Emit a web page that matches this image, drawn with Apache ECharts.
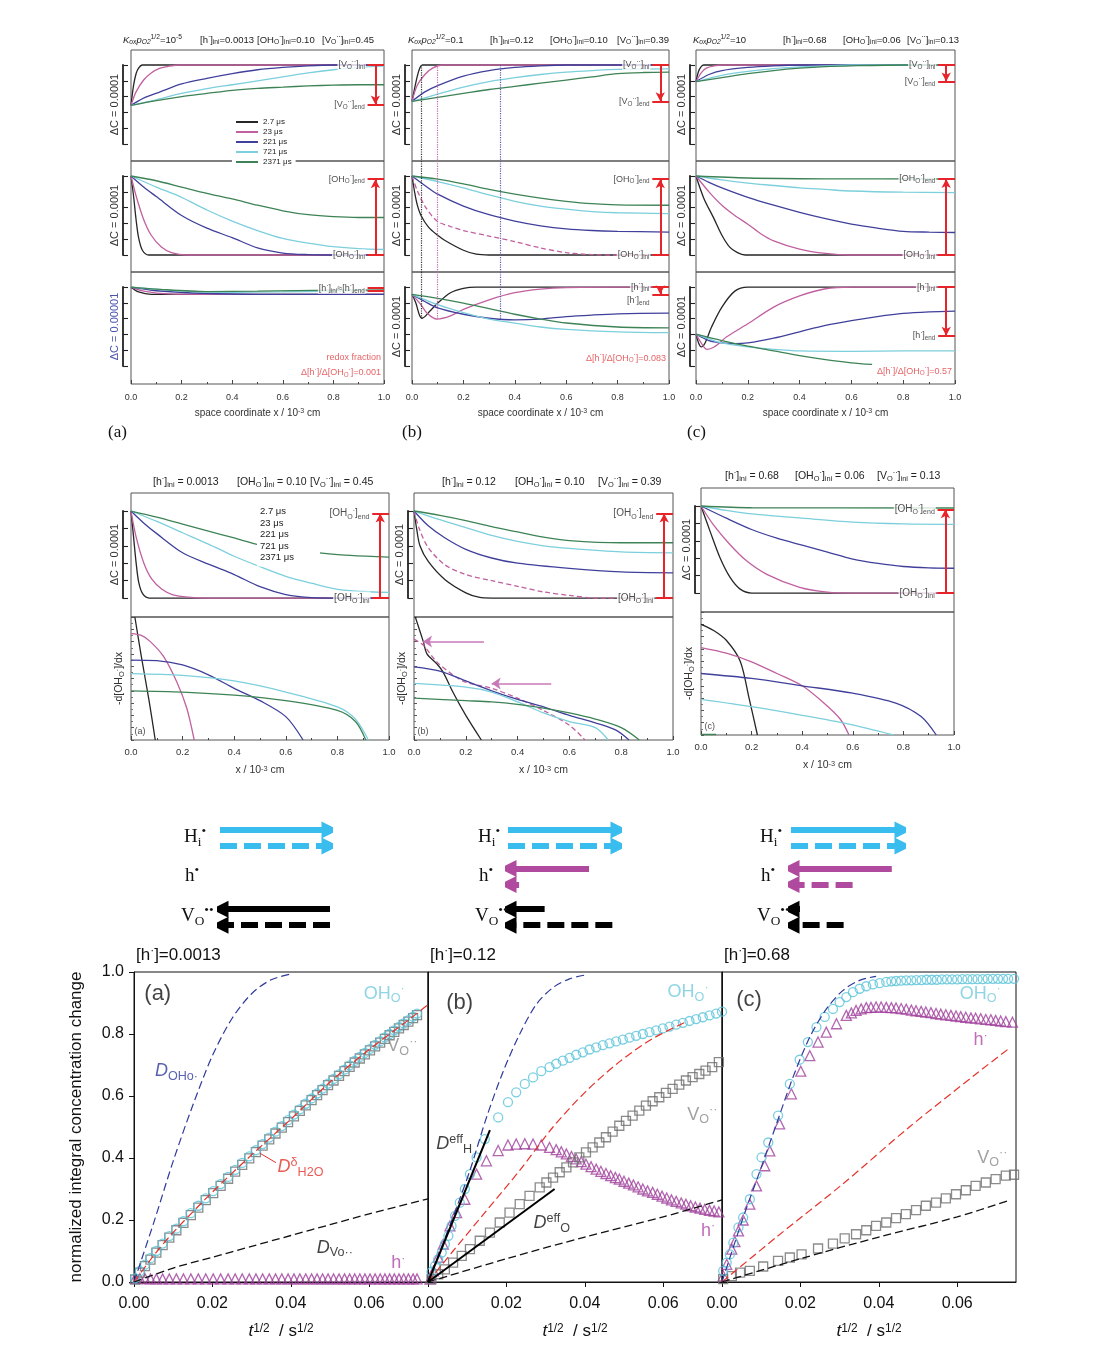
<!DOCTYPE html>
<html><head><meta charset="utf-8"><title>chart</title>
<script src="https://cdn.jsdelivr.net/npm/echarts/dist/echarts.min.js"></script>
<style>html,body{margin:0;padding:0;background:#fff;}#chart{width:1117px;height:1354px;}</style>
</head><body><div id="chart"></div>
<script>
// ================= DATA =================
const times = ['2.7 μs','23 μs','221 μs','721 μs','2371 μs'];

// top section: concentration profiles (x in 1e-3 cm, y in units of the ΔC scale bar)
const topA_VO = [
 [[0,0.49],[0.01,0.74],[0.02,0.89],[0.03,0.96],[0.045,1],[1,1]],
 [[0,0.49],[0.02,0.66],[0.05,0.81],[0.08,0.9],[0.115,0.96],[0.15,0.985],[0.19,1],[1,1]],
 [[0,0.49],[0.05,0.58],[0.115,0.66],[0.2,0.76],[0.3,0.83],[0.4,0.89],[0.5,0.94],[0.6,0.97],[0.7,0.99],[0.8,1],[1,1]],
 [[0,0.49],[0.1,0.56],[0.2,0.64],[0.3,0.7],[0.4,0.75],[0.5,0.8],[0.6,0.85],[0.7,0.9],[0.8,0.94],[0.9,0.97],[1,0.985]],
 [[0,0.49],[0.1,0.55],[0.2,0.6],[0.3,0.64],[0.4,0.68],[0.5,0.705],[0.6,0.72],[0.7,0.735],[0.8,0.745],[0.9,0.75],[1,0.75]]
];
const topA_OH = [
 [[0,1],[0.01,0.75],[0.02,0.45],[0.03,0.22],[0.045,0.06],[0.07,0],[1,0]],
 [[0,1],[0.02,0.75],[0.05,0.45],[0.08,0.25],[0.12,0.1],[0.16,0.03],[0.22,0],[1,0]],
 [[0,1],[0.05,0.86],[0.1,0.74],[0.2,0.5],[0.3,0.34],[0.4,0.22],[0.5,0.09],[0.6,0.025],[0.7,0.005],[0.8,0],[1,0]],
 [[0,1],[0.1,0.86],[0.2,0.73],[0.3,0.57],[0.4,0.43],[0.5,0.31],[0.6,0.21],[0.7,0.15],[0.8,0.105],[0.9,0.08],[1,0.07]],
 [[0,1],[0.1,0.94],[0.2,0.86],[0.3,0.78],[0.4,0.71],[0.5,0.63],[0.6,0.56],[0.7,0.51],[0.8,0.485],[0.9,0.475],[1,0.475]]
];
const topA_h = [
 [[0,1],[0.03,0.94],[0.08,0.91],[0.2,0.91],[1,0.91]],
 [[0,1],[0.05,0.95],[0.15,0.915],[0.3,0.91],[1,0.91]],
 [[0,1],[0.1,0.955],[0.3,0.92],[0.5,0.91],[1,0.91]],
 [[0,1],[0.2,0.95],[0.4,0.935],[0.6,0.94],[0.8,0.95],[1,0.955]],
 [[0,1],[0.1,0.975],[0.3,0.945],[0.5,0.95],[0.8,0.962],[1,0.965]]
];
const topB_VO = [
 [[0,0.54],[0.01,0.7],[0.02,0.85],[0.03,0.96],[0.04,1],[1,1]],
 [[0,0.54],[0.02,0.74],[0.05,0.88],[0.08,0.96],[0.12,1],[1,1]],
 [[0,0.54],[0.05,0.66],[0.1,0.74],[0.2,0.86],[0.3,0.93],[0.4,0.97],[0.5,0.99],[0.6,1],[1,1]],
 [[0,0.54],[0.1,0.63],[0.2,0.72],[0.3,0.79],[0.4,0.84],[0.5,0.88],[0.6,0.91],[0.7,0.93],[0.8,0.945],[1,0.95]],
 [[0,0.54],[0.1,0.59],[0.2,0.64],[0.3,0.69],[0.4,0.73],[0.5,0.77],[0.6,0.81],[0.7,0.85],[0.8,0.89],[0.9,0.905],[1,0.91]]
];
const topB_OH = [
 [[0,1],[0.01,0.8],[0.02,0.64],[0.035,0.5],[0.065,0.35],[0.1,0.25],[0.13,0.18],[0.2,0.06],[0.25,0.01],[0.3,0],[1,0]],
 [[0,1],[0.02,0.82],[0.05,0.62],[0.097,0.43],[0.15,0.36],[0.2,0.31],[0.3,0.24],[0.4,0.17],[0.5,0.09],[0.6,0.03],[0.7,0.005],[0.8,0],[1,0]],
 [[0,1],[0.05,0.88],[0.1,0.77],[0.2,0.62],[0.3,0.51],[0.4,0.43],[0.5,0.37],[0.6,0.33],[0.7,0.31],[0.8,0.3],[1,0.29]],
 [[0,1],[0.1,0.93],[0.2,0.85],[0.3,0.76],[0.4,0.68],[0.5,0.62],[0.6,0.58],[0.7,0.55],[0.8,0.535],[1,0.525]],
 [[0,1],[0.1,0.96],[0.2,0.9],[0.3,0.83],[0.4,0.77],[0.5,0.72],[0.6,0.68],[0.7,0.65],[0.8,0.635],[1,0.63]]
];
const topB_h = [
 [[0,0.91],[0.015,0.8],[0.03,0.64],[0.039,0.61],[0.05,0.63],[0.07,0.7],[0.1,0.8],[0.15,0.93],[0.2,0.985],[0.25,1],[1,1]],
 [[0,0.91],[0.03,0.8],[0.06,0.67],[0.097,0.6],[0.15,0.64],[0.2,0.72],[0.3,0.84],[0.4,0.93],[0.5,0.975],[0.6,0.995],[0.8,1],[1,1]],
 [[0,0.91],[0.05,0.82],[0.1,0.74],[0.2,0.66],[0.3,0.61],[0.4,0.59],[0.5,0.6],[0.6,0.63],[0.7,0.65],[0.8,0.665],[1,0.675]],
 [[0,0.91],[0.1,0.78],[0.2,0.68],[0.3,0.6],[0.4,0.55],[0.5,0.5],[0.6,0.47],[0.8,0.44],[1,0.43]],
 [[0,0.91],[0.1,0.86],[0.2,0.8],[0.3,0.73],[0.4,0.66],[0.5,0.6],[0.6,0.55],[0.8,0.5],[1,0.49]]
];
const topC_VO = [
 [[0,0.79],[0.01,0.92],[0.02,0.98],[0.03,1],[1,1]],
 [[0,0.79],[0.02,0.9],[0.04,0.96],[0.07,0.99],[0.1,1],[1,1]],
 [[0,0.79],[0.05,0.88],[0.1,0.93],[0.2,0.97],[0.3,0.99],[0.4,1],[1,1]],
 [[0,0.79],[0.1,0.87],[0.2,0.92],[0.3,0.955],[0.4,0.975],[0.5,0.99],[0.6,1],[1,1]],
 [[0,0.79],[0.1,0.84],[0.2,0.89],[0.3,0.93],[0.4,0.96],[0.5,0.98],[0.6,0.99],[0.8,1],[1,1]]
];
const topC_OH = [
 [[0,1],[0.03,0.72],[0.068,0.47],[0.1,0.25],[0.13,0.1],[0.16,0.03],[0.19,0],[1,0]],
 [[0,1],[0.05,0.8],[0.1,0.63],[0.15,0.5],[0.2,0.39],[0.25,0.27],[0.3,0.18],[0.4,0.075],[0.5,0.02],[0.6,0],[1,0]],
 [[0,1],[0.05,0.92],[0.1,0.85],[0.2,0.73],[0.3,0.63],[0.4,0.54],[0.5,0.46],[0.6,0.39],[0.7,0.34],[0.8,0.3],[0.9,0.29],[1,0.285]],
 [[0,1],[0.1,0.95],[0.2,0.91],[0.3,0.88],[0.4,0.85],[0.5,0.83],[0.6,0.81],[0.8,0.795],[1,0.79]],
 [[0,1],[0.2,0.975],[0.5,0.965],[1,0.962]]
];
const topC_h = [
 [[0,0.41],[0.01,0.3],[0.02,0.25],[0.035,0.3],[0.06,0.5],[0.1,0.75],[0.15,0.95],[0.2,1],[1,1]],
 [[0,0.41],[0.02,0.3],[0.042,0.22],[0.07,0.25],[0.12,0.38],[0.2,0.54],[0.3,0.75],[0.4,0.89],[0.5,0.98],[0.6,1],[1,1]],
 [[0,0.41],[0.05,0.33],[0.1,0.3],[0.15,0.29],[0.2,0.3],[0.3,0.36],[0.4,0.44],[0.5,0.52],[0.6,0.58],[0.7,0.63],[0.8,0.67],[0.9,0.69],[1,0.7]],
 [[0,0.41],[0.05,0.35],[0.1,0.3],[0.2,0.25],[0.3,0.22],[0.4,0.2],[0.6,0.195],[0.8,0.2],[1,0.2]],
 [[0,0.41],[0.1,0.33],[0.2,0.26],[0.3,0.2],[0.4,0.14],[0.5,0.09],[0.6,0.05],[0.68,0.03]]
];

// middle section: OH profiles and gradients
const midA_OH = [
 [[0,1],[0.01,0.7],[0.02,0.4],[0.03,0.18],[0.045,0.05],[0.07,0],[1,0]],
 [[0,1],[0.02,0.7],[0.05,0.4],[0.08,0.22],[0.12,0.1],[0.16,0.04],[0.22,0.01],[0.3,0],[1,0]],
 [[0,1],[0.05,0.86],[0.1,0.74],[0.2,0.52],[0.3,0.39],[0.4,0.27],[0.5,0.13],[0.6,0.04],[0.7,0.005],[0.8,0],[1,0]],
 [[0,1],[0.1,0.88],[0.2,0.75],[0.3,0.62],[0.4,0.48],[0.5,0.36],[0.6,0.25],[0.7,0.17],[0.8,0.1],[0.9,0.075],[1,0.065]],
 [[0,1],[0.1,0.93],[0.2,0.85],[0.3,0.77],[0.4,0.69],[0.5,0.61],[0.6,0.56],[0.73,0.52],[0.85,0.49],[1,0.47]]
];
const midA_dx = [
 [[0.015,1],[0.04,0.68],[0.07,0.32],[0.094,0]],
 [[0,0.865],[0.04,0.85],[0.075,0.8],[0.126,0.68],[0.178,0.47],[0.216,0.26],[0.245,0]],
 [[0,0.65],[0.1,0.645],[0.2,0.61],[0.3,0.53],[0.4,0.42],[0.5,0.32],[0.6,0.19],[0.667,0]],
 [[0,0.54],[0.2,0.525],[0.4,0.48],[0.6,0.39],[0.8,0.27],[0.87,0.17],[0.92,0]],
 [[0,0.4],[0.2,0.39],[0.4,0.365],[0.6,0.32],[0.8,0.24],[0.87,0.15],[0.91,0]]
];
const midB_OH = [
 [[0,1],[0.01,0.8],[0.023,0.6],[0.055,0.42],[0.12,0.21],[0.2,0.06],[0.25,0.01],[0.3,0],[1,0]],
 [[0,1],[0.02,0.8],[0.055,0.58],[0.12,0.38],[0.2,0.27],[0.3,0.2],[0.4,0.135],[0.5,0.07],[0.6,0.03],[0.7,0],[1,0]],
 [[0,1],[0.055,0.83],[0.12,0.69],[0.2,0.56],[0.3,0.46],[0.4,0.4],[0.6,0.34],[0.8,0.3],[1,0.29]],
 [[0,1],[0.1,0.9],[0.2,0.81],[0.3,0.72],[0.4,0.65],[0.5,0.6],[0.6,0.57],[0.8,0.53],[1,0.52]],
 [[0,1],[0.1,0.95],[0.2,0.89],[0.3,0.82],[0.4,0.76],[0.5,0.7],[0.6,0.66],[0.8,0.635],[1,0.635]]
];
const midB_dx = [
 [[0.005,1],[0.036,0.8],[0.05,0.7],[0.088,0.62],[0.113,0.55],[0.15,0.39],[0.2,0.2],[0.26,0]],
 [[0,0.82],[0.036,0.77],[0.088,0.635],[0.15,0.53],[0.2,0.47],[0.3,0.42],[0.4,0.34],[0.5,0.24],[0.6,0.12],[0.66,0]],
 [[0,0.595],[0.1,0.56],[0.2,0.48],[0.3,0.4],[0.4,0.33],[0.5,0.27],[0.6,0.2],[0.7,0.14],[0.78,0.08],[0.83,0]],
 [[0,0.46],[0.2,0.43],[0.3,0.39],[0.4,0.31],[0.5,0.22],[0.6,0.15],[0.7,0.1],[0.75,0]],
 [[0,0.34],[0.2,0.32],[0.3,0.31],[0.4,0.29],[0.5,0.26],[0.6,0.22],[0.7,0.17],[0.8,0.1],[0.87,0]]
];
const midC_OH = [
 [[0,1],[0.037,0.7],[0.076,0.4],[0.115,0.18],[0.155,0.045],[0.2,0],[1,0]],
 [[0,1],[0.05,0.78],[0.115,0.555],[0.18,0.37],[0.26,0.215],[0.39,0.065],[0.5,0.01],[0.6,0],[1,0]],
 [[0,1],[0.1,0.86],[0.2,0.73],[0.3,0.63],[0.4,0.55],[0.5,0.47],[0.6,0.39],[0.7,0.34],[0.8,0.305],[0.9,0.29],[1,0.285]],
 [[0,1],[0.1,0.95],[0.2,0.91],[0.4,0.86],[0.6,0.815],[0.8,0.795],[1,0.79]],
 [[0,1],[0.2,0.98],[1,0.977]]
];
const midC_dx = [
 [[0,0.9],[0.05,0.85],[0.1,0.77],[0.155,0.6],[0.19,0.3],[0.223,0]],
 [[0,0.71],[0.1,0.665],[0.2,0.595],[0.3,0.5],[0.4,0.4],[0.48,0.27],[0.55,0.13],[0.585,0]],
 [[0,0.5],[0.2,0.46],[0.4,0.4],[0.6,0.34],[0.77,0.26],[0.87,0.15],[0.93,0]],
 [[0,0.29],[0.2,0.23],[0.4,0.16],[0.58,0.09],[0.76,0]],
 [[0,0.004],[0.06,0.004]]
];

// flux arrows (relative length, + = to the right)
const arrowsA = [1, 1, 0, 0, -1, -1];
const arrowsB = [1, 1, -0.73, -0.1, -0.33, -0.94];
const arrowsC = [1, 1, -0.9, -0.55, -0.08, -0.47];

// bottom section: normalized integral concentration change vs t^1/2
const botA_t = [0.0003,0.0015,0.0028,0.0042,0.0057,0.0073,0.009,0.0108,0.0126,0.0145,0.0164,0.0183,0.0202,0.0221,0.024,0.0258,0.0276,0.0294,0.0311,0.0328,0.0345,0.0361,0.0377,0.0393,0.0408,0.0423,0.0438,0.0453,0.0467,0.0481,0.0495,0.0509,0.0523,0.0537,0.055,0.0563,0.0576,0.0589,0.0602,0.0615,0.0628,0.064,0.0652,0.0664,0.0676,0.0688,0.07,0.0712,0.0722];
const botA_OH = [0.012,0.035,0.056,0.077,0.100,0.124,0.148,0.172,0.196,0.222,0.246,0.270,0.293,0.316,0.339,0.362,0.384,0.405,0.425,0.445,0.466,0.485,0.503,0.522,0.540,0.557,0.575,0.592,0.608,0.624,0.640,0.655,0.670,0.685,0.699,0.713,0.726,0.739,0.752,0.765,0.777,0.789,0.800,0.812,0.823,0.834,0.845,0.856,0.866];
const botA_VO = [0.008,0.03,0.051,0.072,0.095,0.119,0.143,0.167,0.191,0.216,0.24,0.264,0.287,0.31,0.333,0.356,0.378,0.399,0.419,0.44,0.46,0.479,0.498,0.516,0.534,0.552,0.57,0.587,0.603,0.619,0.635,0.65,0.665,0.68,0.694,0.708,0.721,0.734,0.747,0.76,0.772,0.784,0.796,0.807,0.818,0.829,0.84,0.851,0.861];
const botA_h = [0.012,0.011,0.011,0.01,0.01,0.01,0.01,0.01,0.01,0.01,0.01,0.01,0.01,0.01,0.01,0.01,0.01,0.01,0.01,0.01,0.01,0.01,0.01,0.01,0.01,0.01,0.01,0.01,0.01,0.01,0.01,0.01,0.01,0.01,0.01,0.01,0.01,0.01,0.01,0.01,0.01,0.01,0.01,0.01,0.01,0.01,0.01,0.01,0.01];
const botA_DOH = [[0,0],[0.005,0.19],[0.01,0.39],[0.015,0.57],[0.02,0.73],[0.025,0.85],[0.03,0.93],[0.035,0.975],[0.0405,0.995]];
const botA_DH2O = [[0,0],[0.005,0.085],[0.01,0.16],[0.02,0.29],[0.03,0.41],[0.04,0.525],[0.05,0.645],[0.06,0.75],[0.07,0.845],[0.075,0.895]];
const botA_DVO = [[0,0],[0.01,0.045],[0.02,0.08],[0.03,0.115],[0.04,0.15],[0.05,0.185],[0.06,0.22],[0.075,0.268]];

const botB_OH = [[0.0009,0.033],[0.0018,0.052],[0.0026,0.073],[0.0035,0.095],[0.0043,0.122],[0.0052,0.149],[0.006,0.181],[0.0069,0.213],[0.0081,0.256],[0.0094,0.3],[0.0107,0.348],[0.0124,0.402],[0.0145,0.461],[0.0179,0.531],[0.0204,0.58],[0.0225,0.612],[0.0247,0.639],[0.0268,0.66],[0.0289,0.68],[0.031,0.693],[0.0327,0.704],[0.0344,0.714],[0.0361,0.723],[0.0378,0.733],[0.0395,0.741],[0.0412,0.75],[0.0429,0.757],[0.0446,0.764],[0.0463,0.77],[0.048,0.776],[0.0497,0.782],[0.0514,0.788],[0.0531,0.794],[0.0548,0.8],[0.0565,0.806],[0.0582,0.812],[0.0599,0.818],[0.0616,0.824],[0.0633,0.83],[0.065,0.836],[0.0667,0.842],[0.0684,0.848],[0.0701,0.854],[0.0718,0.86],[0.0735,0.866],[0.075,0.872]];
const botB_h = [[0.0005,0.009],[0.0014,0.036],[0.0026,0.08],[0.0039,0.122],[0.0056,0.181],[0.0073,0.224],[0.0094,0.267],[0.0124,0.348],[0.0149,0.391],[0.0179,0.424],[0.0204,0.442],[0.0225,0.445],[0.0247,0.446],[0.0268,0.445],[0.0289,0.442],[0.031,0.434],[0.0327,0.427],[0.034,0.42],[0.0353,0.413],[0.0366,0.405],[0.0378,0.397],[0.0391,0.388],[0.0403,0.38],[0.0416,0.372],[0.0429,0.364],[0.0441,0.357],[0.0454,0.35],[0.0466,0.343],[0.0478,0.337],[0.0488,0.332],[0.05,0.325],[0.0512,0.319],[0.0524,0.313],[0.0536,0.307],[0.0548,0.3],[0.056,0.294],[0.0573,0.289],[0.0585,0.283],[0.0597,0.277],[0.0609,0.271],[0.0621,0.265],[0.0633,0.26],[0.0646,0.255],[0.0658,0.251],[0.067,0.246],[0.0682,0.242],[0.0694,0.238],[0.0706,0.234],[0.0718,0.231],[0.073,0.229],[0.0742,0.226]];
const botB_VO = [[0.0009,0.009],[0.0026,0.025],[0.0043,0.041],[0.0064,0.0625],[0.0086,0.084],[0.0107,0.106],[0.0132,0.133],[0.0158,0.159],[0.0183,0.192],[0.0208,0.224],[0.0234,0.251],[0.0259,0.278],[0.0285,0.305],[0.0302,0.321],[0.0319,0.337],[0.0336,0.354],[0.0353,0.37],[0.037,0.386],[0.0386,0.402],[0.0403,0.418],[0.042,0.434],[0.0437,0.45],[0.0454,0.467],[0.0471,0.485],[0.0488,0.504],[0.0505,0.52],[0.0522,0.537],[0.0539,0.553],[0.0556,0.569],[0.0573,0.583],[0.059,0.596],[0.0607,0.61],[0.0624,0.623],[0.0641,0.637],[0.0658,0.65],[0.0675,0.661],[0.0692,0.671],[0.0708,0.682],[0.0725,0.693],[0.0742,0.709]];
const botB_DOH = [[0,0],[0.0064,0.21],[0.0107,0.36],[0.0149,0.53],[0.0192,0.68],[0.0234,0.8],[0.0276,0.895],[0.0319,0.95],[0.0361,0.978],[0.04,0.99]];
const botB_DH2O = [[0,0],[0.0064,0.1],[0.0149,0.23],[0.0234,0.36],[0.0319,0.5],[0.0403,0.615],[0.0488,0.71],[0.0573,0.785],[0.066,0.84]];
const botB_DVO = [[0,0],[0.02,0.075],[0.04,0.145],[0.06,0.21],[0.075,0.265]];
const botB_DHeff = [[0,0],[0.0158,0.49]];
const botB_DOeff = [[0,0],[0.0323,0.3]];

const botC_OH = [[0.0003,0.036],[0.0012,0.0625],[0.002,0.089],[0.0029,0.127],[0.0042,0.176],[0.0054,0.208],[0.0071,0.267],[0.0088,0.348],[0.0101,0.402],[0.0118,0.45],[0.0143,0.537],[0.0173,0.639],[0.0198,0.717],[0.0219,0.774],[0.0241,0.822],[0.0262,0.855],[0.0283,0.881],[0.03,0.903],[0.0317,0.919],[0.0334,0.935],[0.0351,0.946],[0.0368,0.954],[0.0385,0.96],[0.0402,0.964],[0.0419,0.968],[0.0432,0.97],[0.0444,0.971],[0.0457,0.972],[0.047,0.973],[0.0483,0.973],[0.0496,0.974],[0.0509,0.974],[0.0522,0.975],[0.0535,0.975],[0.0548,0.975],[0.0561,0.976],[0.0574,0.976],[0.0587,0.976],[0.06,0.976],[0.0613,0.977],[0.0626,0.977],[0.0639,0.977],[0.0652,0.977],[0.0665,0.977],[0.0678,0.978],[0.0691,0.978],[0.0704,0.978],[0.0717,0.978],[0.073,0.978],[0.0745,0.978]];
const botC_h = [[0.0003,0.02],[0.0012,0.057],[0.0025,0.106],[0.0033,0.13],[0.0042,0.165],[0.0054,0.2],[0.0071,0.251],[0.0088,0.31],[0.0109,0.375],[0.0122,0.423],[0.0147,0.51],[0.0177,0.607],[0.0201,0.68],[0.0224,0.73],[0.0245,0.774],[0.0266,0.806],[0.0292,0.833],[0.0317,0.86],[0.033,0.868],[0.0342,0.876],[0.0355,0.881],[0.0368,0.885],[0.038,0.886],[0.0393,0.887],[0.0406,0.887],[0.0419,0.886],[0.0432,0.885],[0.0444,0.884],[0.0457,0.882],[0.047,0.88],[0.0483,0.877],[0.0495,0.875],[0.0508,0.873],[0.052,0.871],[0.0533,0.869],[0.0546,0.866],[0.0558,0.864],[0.0571,0.862],[0.0584,0.86],[0.0597,0.858],[0.0609,0.856],[0.0622,0.854],[0.0635,0.852],[0.0647,0.851],[0.066,0.849],[0.0673,0.847],[0.0686,0.846],[0.0698,0.844],[0.0711,0.842],[0.0724,0.84],[0.0741,0.838]];
const botC_VO = [[0.0003,0.009],[0.0025,0.019],[0.0046,0.03],[0.0071,0.036],[0.0105,0.05],[0.0143,0.068],[0.0173,0.079],[0.0203,0.089],[0.0245,0.108],[0.0283,0.124],[0.0313,0.141],[0.0342,0.154],[0.0368,0.167],[0.0393,0.181],[0.0419,0.192],[0.0444,0.206],[0.0469,0.219],[0.0495,0.232],[0.052,0.246],[0.0546,0.256],[0.0571,0.27],[0.0597,0.283],[0.0622,0.296],[0.0647,0.31],[0.0673,0.321],[0.0698,0.332],[0.0724,0.343],[0.0745,0.346]];
const botC_DOH = [[0,0],[0.0054,0.208],[0.0097,0.359],[0.0139,0.51],[0.0181,0.66],[0.0224,0.79],[0.0266,0.88],[0.0308,0.94],[0.0351,0.973],[0.0393,0.986]];
const botC_DH2O = [[0,0],[0.0139,0.145],[0.0308,0.316],[0.0478,0.5],[0.0647,0.67],[0.0736,0.757]];
const botC_DVO = [[0,0],[0.02,0.075],[0.04,0.145],[0.06,0.21],[0.0736,0.265]];

// ================= STYLE / BUILD =================
const FONT = "'Liberation Sans', Arial, sans-serif";
const SERIF = "'Liberation Serif', 'Times New Roman', serif";
const timeColors = ['#262626','#c0609f','#40409c','#7ccfdc','#3d8356'];
const RED = '#e8242b';

function rich(fs, fam, color){
  const sub = Math.round(fs*0.7*10)/10, lh = Math.max(3, Math.round(fs*0.42));
  const o = {
    s:{fontSize:sub, lineHeight:lh, verticalAlign:'bottom', fontFamily:fam},
    p:{fontSize:sub, lineHeight:lh, verticalAlign:'top', fontFamily:fam},
    i:{fontSize:fs, fontStyle:'italic', fontFamily:fam},
    is:{fontSize:sub, lineHeight:lh, verticalAlign:'bottom', fontStyle:'italic', fontFamily:fam}
  };
  if (color) for (const k in o) o[k].color = color;
  return o;
}
function grich(fs, fam, fill){
  const r = rich(fs, fam);
  for (const k in r) r[k].fill = fill;
  return r;
}

const grids=[], xAxes=[], yAxes=[], series=[], graphics=[];
function addGrid(rect, xa, ya){
  const i = grids.length;
  grids.push(rect);
  const xx = Object.assign({gridIndex:i, type:'value'}, xa);
  xx.axisLine = Object.assign({onZero:false}, xx.axisLine||{});
  const yy = Object.assign({gridIndex:i, type:'value'}, ya);
  yy.axisLine = Object.assign({onZero:false}, yy.axisLine||{});
  xAxes.push(xx); yAxes.push(yy);
  return i;
}
function xAxisCfg(show, name, fs, margin, gap){
  return {min:0, max:1, interval:0.2, axisLine:{show:false}, splitLine:{show:false},
    axisTick:{show:show, inside:true, length:4, lineStyle:{color:'#444'}},
    minorTick:{show:show, splitNumber:2, length:2, lineStyle:{color:'#444'}},
    axisLabel:{show:show, fontSize:fs, color:'#333', fontFamily:FONT, margin:margin, formatter:v=>v.toFixed(1)},
    name: show?name:'', nameLocation:'middle', nameGap:gap,
    nameTextStyle:{fontSize:fs+1, color:'#333', fontFamily:FONT, rich:rich(fs+1,FONT,'#333')}};
}
function addCurves(gi, curves, dashed){
  curves.forEach((d,k)=>{
    series.push({type:'line', name:times[k], xAxisIndex:gi, yAxisIndex:gi, data:d, showSymbol:false, symbol:'none',
      smooth:0.3, clip:true, silent:true, z:2,
      lineStyle:{color:timeColors[k], width:1.3, type:(dashed&&dashed[k])?[5,3]:'solid'}, itemStyle:{color:timeColors[k]}});
  });
}
function redMarks(gi, levels, arrow){
  const d = levels.map(v=>[{coord:[0.935,v]},{coord:[1,v]}]);
  if (arrow) d.push([{coord:[0.966,arrow[0]], symbol:'none'},{coord:[0.966,arrow[1]], symbol:'arrow', symbolSize:[7,9]}]);
  series.push({type:'line', xAxisIndex:gi, yAxisIndex:gi, data:[], silent:true, z:4,
    markLine:{silent:true, symbol:['none','none'], label:{show:false}, animation:false,
      lineStyle:{color:RED, width:2, type:'solid'}, data:d}});
}
function vLines(gi, items){ // [x, y0, [x1,y1] | y1, color, type, width, endSymbol, symbolSize]
  series.push({type:'line', xAxisIndex:gi, yAxisIndex:gi, data:[], silent:true, z:4,
    markLine:{silent:true, symbol:['none','none'], label:{show:false}, animation:false,
      data: items.map(it=>{
        const end = Array.isArray(it[2]) ? it[2] : [it[0], it[2]];
        return [{coord:[it[0],it[1]], lineStyle:{color:it[3], type:it[4]||'solid', width:it[5]||1.2}, symbol:'none'},
                {coord:end, symbol:it[6]||'none', symbolSize:it[7]||8}];
      })}});
}
function texts(gi, items){
  series.push({type:'scatter', xAxisIndex:gi, yAxisIndex:gi, symbolSize:1, silent:true, z:6,
    itemStyle:{color:'rgba(0,0,0,0)'},
    data: items.map(t=>{
      const st = t[4]||{}; const fs = st.fontSize||9; const fam = st.fontFamily||FONT; const col = st.color||'#222';
      return {value:[t[0],t[1]], label:Object.assign({show:true, formatter:t[2], position:t[3]||'left', distance:0,
        fontSize:fs, fontFamily:fam, color:col, lineHeight:Math.round(fs*1.25), rich:rich(fs,fam,col)}, st)};
    })});
}
function barCaps(gi){
  series.push({type:'line', xAxisIndex:gi, yAxisIndex:gi, data:[], silent:true, z:4,
    markLine:{silent:true, symbol:['none','none'], label:{show:false}, animation:false,
      lineStyle:{color:'#222', width:1.3, type:'solid'},
      data:[[{coord:[-0.5,1]},{coord:[0.6,1]}],[{coord:[-0.5,0]},{coord:[0.6,0]}]]}});
}
function scaleBar(x, top, h, name, col){
  const gi = addGrid({left:x, top:top, width:8, height:h, show:false},
    {min:0, max:1, show:false},
    {min:0, max:1, interval:0.2, position:'left',
     axisLine:{show:true, lineStyle:{color:'#222', width:1.8}},
     axisTick:{show:true, inside:true, length:5, lineStyle:{color:'#222', width:1.1}},
     axisLabel:{show:false}, splitLine:{show:false},
     name:name, nameLocation:'middle', nameRotate:90, nameGap:3,
     nameTextStyle:{fontSize:11, color:col, fontFamily:FONT}});
  barCaps(gi);
}
function gtext(x, y, text, fs, fam, fill, align){
  graphics.push({type:'text', x:x, y:y, z:100, silent:true,
    style:{text:text, fontSize:fs, fontFamily:fam, fill:fill||'#222', lineHeight:Math.round(fs*1.25),
      align:align||'left', verticalAlign:'middle', textAlign:align||'left', textVerticalAlign:'middle',
      rich:grich(fs, fam, fill||'#222')}});
}
function zip(xs, ys){ const o=[]; for(let i=0;i<Math.min(xs.length,ys.length);i++) o.push([xs[i],ys[i]]); return o; }

// label strings
const VOi='[V{s|O}{p|··}]{s|ini}', VOe='[V{s|O}{p|··}]{s|end}';
const OHi='[OH{s|O}{p|·}]{s|ini}', OHe='[OH{s|O}{p|·}]{s|end}';
const Hi='[h{p|·}]{s|ini}', He='[h{p|·}]{s|end}';
const WBG = {backgroundColor:'#fff', padding:[0,1]};

// ---------- TOP SECTION ----------
const topCols = [{left:131,width:253,barX:123},{left:412,width:257,barX:405},{left:696,width:259,barX:690}];
const topRows = [50,161,272];
const topSets = [[topA_VO,topA_OH,topA_h],[topB_VO,topB_OH,topB_h],[topC_VO,topC_OH,topC_h]];
const topAnn = [
 [{levels:[1,0.5],arrow:[1,0.5],labels:[[1,VOi],[0.5,VOe]]},
  {levels:[0.96,0],arrow:[0,0.96],labels:[[0.96,OHe],[0,OHi]]},
  {levels:[0.99,0.955],labels:[[0.985,Hi+'≈'+He]]}],
 [{levels:[1,0.54],arrow:[1,0.54],labels:[[1,VOi],[0.54,VOe]]},
  {levels:[0.96,0],arrow:[0,0.96],labels:[[0.96,OHe],[0,OHi]]},
  {levels:[1,0.91],arrow:[1,0.91],labels:[[1,Hi],[0.83,He]]}],
 [{levels:[1,0.79],arrow:[1,0.79],labels:[[1,VOi],[0.79,VOe]]},
  {levels:[0.962,0],arrow:[0,0.962],labels:[[0.962,OHe],[0,OHi]]},
  {levels:[1,0.39],arrow:[1,0.39],labels:[[1,Hi],[0.39,He]]}]
];
const topGi = [];
topCols.forEach((c,ci)=>{
  topGi.push([]);
  topRows.forEach((rt,ri)=>{
    const last = ri===2;
    const gi = addGrid({left:c.left, top:rt, width:c.width, height:last?112:111, show:true, borderColor:'#555', borderWidth:1},
      xAxisCfg(last, 'space coordinate x / 10{p|-3} cm', 9, 9, 24),
      {min:-0.215, max:1.19, show:false});
    topGi[ci].push(gi);
    addCurves(gi, topSets[ci][ri], (ci===1&&ri===1)?[false,true,false,false,false]:null);
    const an = topAnn[ci][ri];
    redMarks(gi, an.levels, an.arrow);
    texts(gi, an.labels.map(l=>[0.93, l[0], l[1], 'left', WBG]));
    const small = ci===0&&ri===2;
    scaleBar(c.barX, rt+15, 79, small?'ΔC = 0.00001':'ΔC = 0.0001', small?'#4a55b0':'#333');
  });
});
// redox fraction notes
texts(topGi[0][2], [[0.99,0.12,'redox fraction','left',{color:'#e03a3e'}],[0.99,-0.075,'Δ[h{p|·}]/Δ[OH{s|O}{p|·}]=0.001','left',{color:'#e03a3e'}]]);
texts(topGi[1][2], [[0.99,0.11,'Δ[h{p|·}]/Δ[OH{s|O}{p|·}]=0.083','left',{color:'#e03a3e'}]]);
texts(topGi[2][2], [[0.99,-0.055,'Δ[h{p|·}]/Δ[OH{s|O}{p|·}]=0.57','left',{color:'#e03a3e'}]]);
// dotted guide lines in column b
const dotX = [[0.035,'#333'],[0.097,'#c06aa8'],[0.343,'#5a5ab0']];
vLines(topGi[1][0], dotX.map(d=>[d[0],1.0,-0.215,d[1],'dotted',1.2]));
vLines(topGi[1][1], dotX.map(d=>[d[0],1.19,-0.215,d[1],'dotted',1.2]));
vLines(topGi[1][2], dotX.map(d=>[d[0],1.19,0.6,d[1],'dotted',1.2]));

// ---------- MIDDLE SECTION ----------
const midCols = [{left:131,width:258,top:493,barX:123},{left:414,width:259,top:493,barX:408},{left:701,width:253,top:488,barX:695}];
const midSets = [[midA_OH,midA_dx],[midB_OH,midB_dx],[midC_OH,midC_dx]];
const midEnd = [0.97,0.97,0.962];
const midGi = [];
midCols.forEach((c,ci)=>{
  const g1 = addGrid({left:c.left, top:c.top, width:c.width, height:124, show:true, borderColor:'#555', borderWidth:1},
    {min:0,max:1,show:false}, {min:-0.218,max:1.207,show:false});
  addCurves(g1, midSets[ci][0], ci===1?[false,true,false,false,false]:null);
  redMarks(g1, [midEnd[ci],0], [0,midEnd[ci]]);
  texts(g1, [[0.93,midEnd[ci],OHe,'left',Object.assign({fontSize:10},WBG)],[0.93,0,OHi,'left',Object.assign({fontSize:10},WBG)]]);
  scaleBar(c.barX, c.top+18, 87, 'ΔC = 0.0001', '#333');
  const g2 = addGrid({left:c.left, top:c.top+124, width:c.width, height:123, show:true, borderColor:'#555', borderWidth:1},
    xAxisCfg(true, 'x / 10{p|-3} cm', 9.5, 7, 25),
    {min:0, max:1, interval:0.1, axisLine:{show:false}, splitLine:{show:false},
     axisTick:{show:true, inside:true, length:3, lineStyle:{color:'#555'}},
     minorTick:{show:true, splitNumber:2, length:2, lineStyle:{color:'#777'}},
     axisLabel:{show:false}, name:'-d[OH{s|O}{p|·}]/dx', nameLocation:'middle', nameRotate:90, nameGap:6,
     nameTextStyle:{fontSize:10.5, color:'#333', fontFamily:FONT, rich:rich(10.5,FONT,'#333')}});
  addCurves(g2, midSets[ci][1], ci===1?[false,true,false,false,false]:null);
  texts(g2, [[0.012,0.07,'('+'abc'[ci]+')','right',{fontSize:9}]]);
  midGi.push([g1,g2]);
});
// pink arrows in (b) gradient panel
vLines(midGi[1][1], [[0.27,0.8,[0.035,0.8],'#c878b8','solid',1.6,'arrow',9],[0.53,0.46,[0.3,0.46],'#c878b8','solid',1.6,'arrow',9]]);

// ---------- FLUX ARROWS ----------
const arrowRows = [0,1,2.4,3.4,4.95,5.95];
const arrowColors = ['#39bdee','#39bdee','#b04a9e','#b04a9e','#000','#000'];
const arrowDash = [false,true,false,true,false,true];
[[220,110,arrowsA],[508,111,arrowsB],[791,112,arrowsC]].forEach(([left,w,arr])=>{
  const gi = addGrid({left:left, top:822, width:w, height:112, show:false},
    {min:0,max:1,show:false}, {min:-0.5,max:6.5,inverse:true,show:false});
  arr.forEach((L,k)=>{
    if (!L) return;
    const y = arrowRows[k];
    const coords = L>0 ? [[0,y],[L,y]] : [[-L,y],[0,y]];
    series.push({type:'lines', coordinateSystem:'cartesian2d', xAxisIndex:gi, yAxisIndex:gi, silent:true, z:3,
      symbol:['none','triangle'], symbolSize:17,
      lineStyle:{color:arrowColors[k], width:6, opacity:1, type:arrowDash[k]?[17,7]:'solid'},
      data:[{coords:coords}]});
  });
});
[[184,'H{s|i}{p|•}','h{p|•}','V{s|O}{p|••}'],[478,'H{s|i}{p|•}','h{p|•}','V{s|O}{p|••}'],[760,'H{s|i}{p|•}','h{p|•}','V{s|O}{p|••}']].forEach(r=>{
  gtext(r[0],837,r[1],19,SERIF,'#111');
  gtext(r[0]+1,876,r[2],19,SERIF,'#111');
  gtext(r[0]-3,916,r[3],19,SERIF,'#111');
});

// ---------- BOTTOM SECTION ----------
const botLeft = [134,428,722];
const botSets = [
 {OH:zip(botA_t,botA_OH), VO:zip(botA_t,botA_VO), h:zip(botA_t,botA_h), DOH:botA_DOH, DH2O:botA_DH2O, DVO:botA_DVO},
 {OH:botB_OH, VO:botB_VO, h:botB_h, DOH:botB_DOH, DH2O:botB_DH2O, DVO:botB_DVO},
 {OH:botC_OH, VO:botC_VO, h:botC_h, DOH:botC_DOH, DH2O:botC_DH2O, DVO:botC_DVO}
];
function markers(gi, data, sym, color, size){
  series.push({type:'scatter', xAxisIndex:gi, yAxisIndex:gi, data:data, symbol:sym, symbolSize:size, silent:true, z:3,
    itemStyle:{color:'rgba(255,255,255,0)', borderColor:color, borderWidth:1.3}});
}
function dline(gi, data, color, dash, width){
  series.push({type:'line', xAxisIndex:gi, yAxisIndex:gi, data:data, showSymbol:false, symbol:'none', smooth:0.3,
    silent:true, z:4, lineStyle:{color:color, width:width||1.2, type:dash?[8,4]:'solid'}});
}
const botGi = [];
botLeft.forEach((left,ci)=>{
  const first = ci===0;
  const gi = addGrid({left:left, top:972, width:294, height:310, show:true, borderColor:'#111', borderWidth:1},
    {min:0, max:0.075, interval:0.02, splitLine:{show:false},
     axisLine:{show:true, lineStyle:{color:'#111'}},
     axisTick:{show:true, inside:false, length:5, lineStyle:{color:'#111'}},
     axisLabel:{fontSize:16, color:'#111', fontFamily:FONT, margin:14, formatter:v=>v.toFixed(2), showMaxLabel:false},
     name:'{i|t}{p|1/2}  / s{p|1/2}', nameLocation:'middle', nameGap:41,
     nameTextStyle:{fontSize:17, color:'#111', fontFamily:FONT, rich:rich(17,FONT,'#111')}},
    {min:0, max:1, interval:0.2, splitLine:{show:false},
     axisLine:{show:true, lineStyle:{color:'#111'}},
     axisTick:{show:first, inside:false, length:5, lineStyle:{color:'#111'}},
     axisLabel:{show:first, fontSize:16, color:'#111', fontFamily:FONT, margin:10, formatter:v=>v.toFixed(1)},
     name:first?'normalized integral concentration change':'', nameLocation:'middle', nameGap:49,
     nameTextStyle:{fontSize:17, color:'#111', fontFamily:FONT}});
  botGi.push(gi);
  const s = botSets[ci];
  markers(gi, s.h, 'triangle', '#a0409c', 10);
  markers(gi, s.VO, 'rect', '#6e6e6e', 9);
  markers(gi, s.OH, 'circle', '#58c3d8', 9);
  dline(gi, s.DOH, '#2f3a9a', true, 1.2);
  dline(gi, s.DH2O, '#e5322b', true, 1.2);
  dline(gi, s.DVO, '#111', true, 1.3);
});
dline(botGi[1], botB_DHeff, '#000', false, 2);
dline(botGi[1], botB_DOeff, '#000', false, 2);
vLines(botGi[0], [[0.0322,0.415,[0.0362,0.385],'#e5322b','solid',1]]);

const L18 = (c)=>({fontSize:18, color:c});
texts(botGi[0], [
  [0.0025,0.93,'(a)','right',{fontSize:22,color:'#111'}],
  [0.0585,0.93,'OH{s|O}{p|·}','right',L18('#74cbdc')],
  [0.0645,0.76,'V{s|O}{p|··}','right',L18('#8a8a8a')],
  [0.0052,0.68,'{i|D}{s|OHo·}','right',L18('#2f3a9a')],
  [0.0365,0.37,'{i|D}{p|δ}{s|H2O}','right',L18('#e5322b')],
  [0.0465,0.11,'{i|D}{s|Vo··}','right',L18('#111')],
  [0.0655,0.06,'h{p|·}','right',L18('#b04aa8')]
]);
texts(botGi[1], [
  [0.0045,0.9,'(b)','right',{fontSize:22,color:'#111'}],
  [0.061,0.935,'OH{s|O}{p|·}','right',L18('#74cbdc')],
  [0.066,0.54,'V{s|O}{p|··}','right',L18('#8a8a8a')],
  [0.0695,0.165,'h{p|·}','right',L18('#b04aa8')],
  [0.002,0.445,'{i|D}{p|eff}{s|H}','right',L18('#111')],
  [0.0268,0.19,'{i|D}{p|eff}{s|O}','right',L18('#111')]
]);
texts(botGi[2], [
  [0.0035,0.91,'(c)','right',{fontSize:22,color:'#111'}],
  [0.0605,0.93,'OH{s|O}{p|·}','right',L18('#74cbdc')],
  [0.064,0.78,'h{p|·}','right',L18('#b04aa8')],
  [0.065,0.4,'V{s|O}{p|··}','right',L18('#8a8a8a')]
]);

// ---------- TEXT HEADERS ----------
const Kp = '{i|K}{is|ox}{i|p}{is|O2}{p|1/2}';
[[123,Kp+'=10{p|-5}'],[200,'[h{p|·}]{s|ini}=0.0013'],[257,'[OH{s|O}{p|·}]{s|ini}=0.10'],[322,'[V{s|O}{p|··}]{s|ini}=0.45'],
 [408,Kp+'=0.1'],[490,'[h{p|·}]{s|ini}=0.12'],[550,'[OH{s|O}{p|·}]{s|ini}=0.10'],[617,'[V{s|O}{p|··}]{s|ini}=0.39'],
 [693,Kp+'=10'],[783,'[h{p|·}]{s|ini}=0.68'],[843,'[OH{s|O}{p|·}]{s|ini}=0.06'],[907,'[V{s|O}{p|··}]{s|ini}=0.13']
].forEach(t=>gtext(t[0],40,t[1],9.5,FONT,'#222'));
[[153,482,'[h{p|·}]{s|ini} = 0.0013'],[237,482,'[OH{s|O}{p|·}]{s|ini} = 0.10'],[310,482,'[V{s|O}{p|··}]{s|ini} = 0.45'],
 [442,482,'[h{p|·}]{s|ini} = 0.12'],[515,482,'[OH{s|O}{p|·}]{s|ini} = 0.10'],[598,482,'[V{s|O}{p|··}]{s|ini} = 0.39'],
 [725,476,'[h{p|·}]{s|ini} = 0.68'],[795,476,'[OH{s|O}{p|·}]{s|ini} = 0.06'],[877,476,'[V{s|O}{p|··}]{s|ini} = 0.13']
].forEach(t=>gtext(t[0],t[1],t[2],10.5,FONT,'#222'));
gtext(108,433,'(a)',17,SERIF,'#111'); gtext(402,433,'(b)',17,SERIF,'#111'); gtext(687,433,'(c)',17,SERIF,'#111');
gtext(136,955,'[h{p|·}]=0.0013',17,FONT,'#111'); gtext(430,955,'[h{p|·}]=0.12',17,FONT,'#111'); gtext(724,955,'[h{p|·}]=0.68',17,FONT,'#111');
// plain time list inside middle (a)
graphics.push({type:'text', x:257, y:503, z:100, silent:true,
  style:{text:times.join('\n'), fontSize:9.5, fontFamily:FONT, fill:'#222', lineHeight:11.5,
    backgroundColor:'#fff', padding:[3,26,3,3]}});

const chart = echarts.init(document.getElementById('chart'), null, {renderer:'canvas'});
chart.setOption({
  animation:false, backgroundColor:'#fff',
  grid:grids, xAxis:xAxes, yAxis:yAxes, series:series, graphic:graphics,
  legend:{data:times.map(n=>({name:n, icon:'rect'})), orient:'vertical', left:232, top:116, z:20,
    itemWidth:22, itemHeight:2, itemGap:0, selectedMode:false, backgroundColor:'#fff', padding:[1,4,1,4],
    textStyle:{fontSize:8, lineHeight:10, fontFamily:FONT, color:'#222'}}
});
</script></body></html>
